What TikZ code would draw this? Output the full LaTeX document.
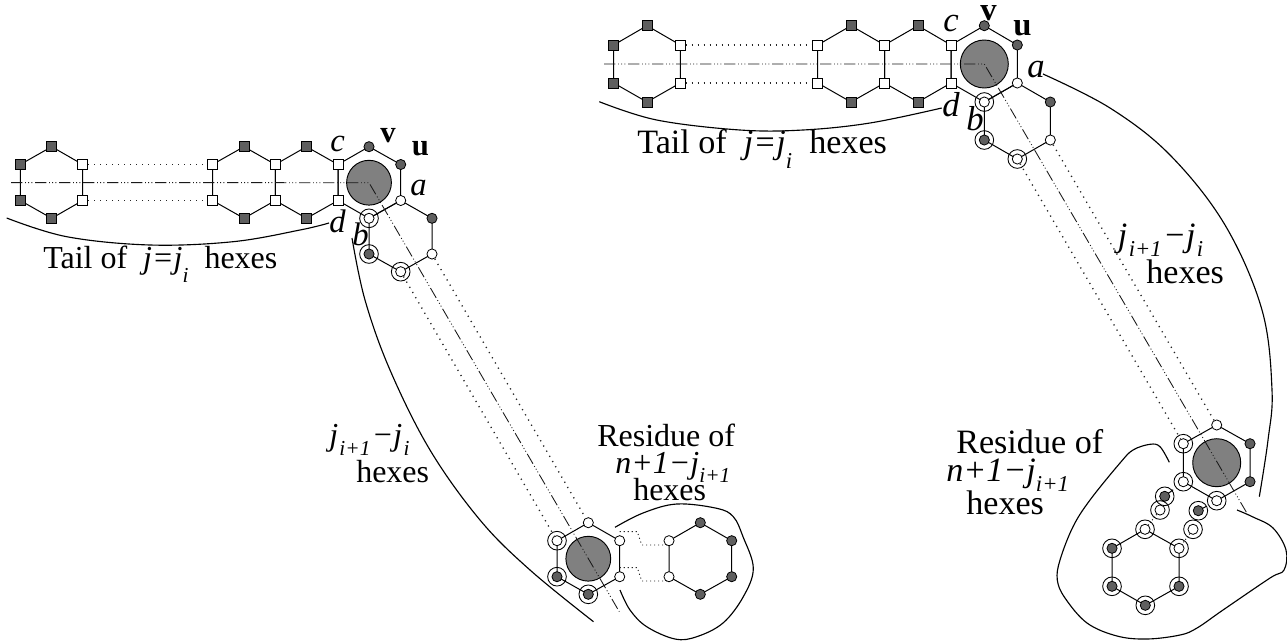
\documentclass[tikz,border=0pt]{standalone}
\usepackage{fontspec}
\setmainfont{Liberation Serif}
\usetikzlibrary{calc}
\pgfdeclarelayer{fore}
\pgfsetlayers{main,fore}
\newcommand{\subl}[2]{\raisebox{-#1}{\fontsize{16}{16}\selectfont\itshape #2}}
\newcommand{\subr}[2]{\raisebox{-#1}{\fontsize{17}{17}\selectfont\itshape #2}}
\newcommand{\gsq}[2]{\node[sqnode,fill=nodegrey] (#1) at (#2) {};}
\newcommand{\wsq}[2]{\node[sqnode,fill=white] (#1) at (#2) {};}
\newcommand{\gdot}[2]{\node[dotnode,fill=nodegrey] (#1) at (#2) {};}
\newcommand{\wdot}[2]{\node[dotnode,fill=white] (#1) at (#2) {};}
\newcommand{\gring}[2]{\gdot{#1}{#2}\node[ringnode] (#1r) at (#2) {};}
\newcommand{\wring}[2]{\wdot{#1}{#2}\node[ringnode] (#1r) at (#2) {};}
\newcommand{\hexedges}[6]{\draw[edge] (#1.center) -- (#2.center) -- (#3.center) -- (#4.center) -- (#5.center) -- (#6.center) -- cycle;}
\definecolor{nodegrey}{HTML}{5F5F5F}
\definecolor{bigrey}{HTML}{808080}
\tikzset{
  sqnode/.style={draw=black,line width=.6pt,rectangle,minimum size=7.4pt,inner sep=0pt},
  dotnode/.style={draw=black,line width=.6pt,circle,minimum size=7.6pt,inner sep=0pt},
  ringnode/.style={draw=black,line width=.65pt,circle,minimum size=14pt,inner sep=0pt},
  bigdisc/.style={draw=black,line width=.7pt,circle,fill=bigrey,inner sep=0pt},
  edge/.style={line width=.75pt,black},
  dots/.style={line width=1pt,black!85,dash pattern=on .9pt off 3.6pt},
  axis/.style={line width=.65pt,black!90,dash pattern=on 8.5pt off 2pt on .7pt off 1.7pt on .7pt off 1.7pt on .7pt off 2pt},
  curve/.style={line width=.85pt,black},
  labl/.style={font=\fontsize{24}{26}\selectfont,inner sep=0pt,text=black,anchor=base west},
  labr/.style={font=\fontsize{25.6}{26}\selectfont,inner sep=0pt,text=black,anchor=base west},
  itall/.style={font=\fontsize{24.5}{26}\selectfont\itshape,inner sep=0pt,text=black,anchor=base west},
  italr/.style={font=\fontsize{26}{26}\selectfont\itshape,inner sep=0pt,text=black,anchor=base west},
  bldl/.style={font=\fontsize{23}{26}\selectfont\bfseries,inner sep=0pt,text=black,anchor=base west},
  bldr/.style={font=\fontsize{24.5}{26}\selectfont\bfseries,inner sep=0pt,text=black,anchor=base west},
}
\begin{document}
\begin{tikzpicture}[x=.75pt,y=-.75pt]
\useasboundingbox (0,0) rectangle (1287,640);
%%%%%%%% left figure
\begin{pgfonlayer}{fore}
\gsq{a1}{51.7,146.7}\wsq{a2}{82.7,164.5}\wsq{a3}{82.7,200.5}\gsq{a4}{51.7,218.3}\gsq{a5}{20.3,200.5}\gsq{a6}{20.3,164.5}
\gsq{b1}{244,146.7}\wsq{b2}{275.3,164.5}\wsq{b3}{275.3,200.5}\gsq{b4}{244,218.3}\wsq{b5}{212.5,200.5}\wsq{b6}{212.5,164.5}
\gsq{c1}{306.5,146.7}\wsq{c2}{338,164.5}\wsq{c3}{338,200.5}\gsq{c4}{306.5,218.3}
\gdot{d1}{369,146.7}\gdot{d2}{400.7,164.5}\wdot{d3}{400.7,200.5}\wring{d4}{369,218.3}
\gring{e1}{369,254}\wring{e2}{400.7,271.7}\wdot{e3}{432,254}\gdot{e4}{432,218.3}
\wdot{f1}{588.3,522.7}\wdot{f2}{619.7,540.7}\wdot{f3}{619.7,576.7}\gring{f4}{588.3,594.3}\gring{f5}{557,576.7}\wring{f6}{557,540.7}
\gdot{g1}{700.3,522.7}\gdot{g2}{731.7,540.7}\gdot{g3}{731.7,576.7}\gdot{g4}{700.3,594.3}\wdot{g5}{669,576.7}\wdot{g6}{669,540.7}
\end{pgfonlayer}
\node[bigdisc,minimum size=33.6pt] (dc) at (369,182.7) {};
\node[bigdisc,minimum size=33.6pt] (fc) at (588.3,558.7) {};
\hexedges{a1}{a2}{a3}{a4}{a5}{a6}
\hexedges{b1}{b2}{b3}{b4}{b5}{b6}
\hexedges{c1}{c2}{c3}{c4}{b3}{b2}
\hexedges{d1}{d2}{d3}{d4}{c3}{c2}
\hexedges{d3}{e4}{e3}{e2}{e1}{d4}
\hexedges{f1}{f2}{f3}{f4}{f5}{f6}
\hexedges{g1}{g2}{g3}{g4}{g5}{g6}
\draw[dots] (a2) -- (b6);
\draw[dots] (a3) -- (b5);
\draw[dots] (e2) -- (f6);
\draw[dots] (e3) -- (f1);
\coordinate (lax0) at (11,182.6);
\coordinate (lax1) at (619.3,611.7);
\draw[axis] (lax0) -- (dc.center) -- (lax1);
\coordinate (s0) at (619.7,531.7);\coordinate (s1) at (637.3,531.7);\coordinate (s2) at (641.7,545);\coordinate (s2b) at (669,545);
\coordinate (s3b) at (619.7,567.7);\coordinate (s3) at (637.3,567.7);\coordinate (s4) at (641.7,581);\coordinate (s4b) at (669,581);
\draw[dots,line width=.7pt,dash pattern=on .8pt off 2.2pt] (s0) -- (s1) -- (s2) -- (s2b);
\draw[dots,line width=.7pt,dash pattern=on .8pt off 2.2pt] (s3b) -- (s3) -- (s4) -- (s4b);
% left curves
\draw[curve] plot[smooth,tension=.6] coordinates {(6.7,218) (66.7,236.7) (150,245) (233,241.7) (300,230) (329,223)};
\draw[curve] plot[smooth,tension=.6] coordinates {(352,238) (365,300) (390,370) (430,450) (480,520) (530,570) (593.5,621.7)};
\draw[curve] plot[smooth,tension=.6] coordinates {(615,527.3) (643,513) (676.7,504) (716.7,508.3) (733.3,516.7) (743,536.7) (753.3,568.3) (743.3,596.7) (723,623) (696.7,636.7) (675,639) (646.7,626.7) (630,610) (620,590)};
% left labels
\node[itall] (lc) at (330,151) {c};
\node[bldl] (lv) at (380,142) {v};
\node[bldl] (lu) at (411.7,155) {u};
\node[itall] (la) at (410,195) {a};
\node[itall] (ld) at (329,232) {d};
\node[itall] (lb) at (352,245) {b};
\node[labl] (ltail) at (43,268) {Tail of\ \ \textit{j=j}\subl{11pt}{i}\ \ hexes};
\node[labl] (ljj) at (329,445) {\textit{j}\kern1pt\subl{7.5pt}{i+1}\kern1pt\textit{−j}\kern1pt\subl{7.5pt}{i}};
\node[labl] (lhx) at (356,482) {hexes};
\node[labl] (lres) at (597,446) {Residue of};
\node[labl] (ln) at (615,473) {\textit{n+1−j}\subl{7pt}{i+1}};
\node[labl] (lhx2) at (633,500) {hexes};
%%%%%%%% right figure
\begin{pgfonlayer}{fore}
\gsq{p1}{647,25.7}\wsq{p2}{680.3,45}\wsq{p3}{680.3,83}\gsq{p4}{647,102}\gsq{p5}{613.7,83}\gsq{p6}{613.7,45}
\gsq{q1}{851,25.7}\wsq{q2}{884.5,45}\wsq{q3}{884.5,83}\gsq{q4}{851,102}\wsq{q5}{817.7,83}\wsq{q6}{817.7,45}
\gsq{r1}{918,25.7}\wsq{r2}{951,45}\wsq{r3}{951,83}\gsq{r4}{918,102}
\gdot{s1n}{984.3,25.7}\gdot{s2n}{1017.3,45}\wdot{s3n}{1017.3,83}\wring{s4n}{984.3,102}
\gring{t1}{984.3,140}\wring{t2}{1017.3,159}\wdot{t3}{1050.3,140}\gdot{t4}{1050.3,102}
\wdot{w1}{1216.7,425}\gdot{w2}{1250,443.7}\gdot{w3}{1250,481.7}\wring{w4}{1216.7,500.7}\wring{w5}{1183.3,481.7}\wring{w6}{1183.3,443.7}
\gring{x1}{1164.7,496.3}\wring{x2}{1160,510}\gring{x3}{1198.3,510.7}\wring{x4}{1193,529.3}
\wring{y1}{1145,529.3}\wring{y2}{1179,548.3}\gring{y3}{1179,586.3}\gring{y4}{1145.3,605.3}\gring{y5}{1112,586.3}\gring{y6}{1112,548.3}
\end{pgfonlayer}
\node[bigdisc,minimum size=36pt] (sc) at (984.3,64) {};
\node[bigdisc,minimum size=36pt] (wc) at (1216.7,462.7) {};
\hexedges{p1}{p2}{p3}{p4}{p5}{p6}
\hexedges{q1}{q2}{q3}{q4}{q5}{q6}
\hexedges{r1}{r2}{r3}{r4}{q3}{q2}
\hexedges{s1n}{s2n}{s3n}{s4n}{r3}{r2}
\hexedges{s3n}{t4}{t3}{t2}{t1}{s4n}
\hexedges{w1}{w2}{w3}{w4}{w5}{w6}
\hexedges{y1}{y2}{y3}{y4}{y5}{y6}
\draw[edge] (x1.center) -- ($(x1)!.45!(w5)$);
\draw[edge] (x3.center) -- ($(x3)!.45!(w4)$);
\draw[dots] (p2) -- (q6);
\draw[dots] (p3) -- (q5);
\draw[dots] (t2) -- (w6);
\draw[dots] (t3) -- (w1);
\draw[dots,line width=.7pt,dash pattern=on .8pt off 1.6pt] (x2) -- (y1);
\draw[dots,line width=.7pt,dash pattern=on .8pt off 1.6pt] (x4) -- (y2);
\coordinate (rax0) at (604,64);
\coordinate (rax1) at (1248,515);
\draw[axis] (rax0) -- (sc.center) -- (rax1);
% right curves
\draw[curve] plot[smooth,tension=.6] coordinates {(599.3,101.7) (656.7,120) (740,130) (803,130) (870,123) (941.7,108)};
\draw[curve] plot[smooth,tension=.6] coordinates {(1043,74) (1110,108) (1170,155) (1225,225) (1262,310) (1272,390) (1268,440) (1259.3,496.7)};
\draw[curve] plot[smooth,tension=.6] coordinates {(1169.3,462.3) (1160,446.7) (1150,444.3) (1133,450) (1120,463) (1090,500) (1073,526.7) (1060,560) (1057.3,580) (1065,598) (1087,623) (1117,636) (1147,639) (1180,635) (1197,628) (1223,610) (1270,578) (1284,570) (1286,550) (1273,528) (1253,517) (1237,510)};
% right labels
\node[italr] (rc) at (943,31) {c};
\node[bldr] (rv) at (980,20) {v};
\node[bldr] (ru) at (1013,35) {u};
\node[italr] (ra) at (1027,77) {a};
\node[italr] (rd) at (942,116) {d};
\node[italr] (rb) at (966,130) {b};
\node[labr] (rtail) at (637,153) {Tail of\ \ \textit{j=j}\subr{11.5pt}{i}\ \ hexes};
\node[labr] (rjj) at (1117.7,246) {\textit{j}\kern1pt\subr{8pt}{i+1}\kern1pt\textit{−j}\kern1pt\subr{8pt}{i}};
\node[labr] (rhx) at (1146,283) {hexes};
\node[labr] (rres) at (956,453) {Residue of};
\node[labr] (rn) at (946,481) {\textit{n+1−j}\subr{7.5pt}{i+1}};
\node[labr] (rhx2) at (966,514) {hexes};
\end{tikzpicture}
\end{document}
